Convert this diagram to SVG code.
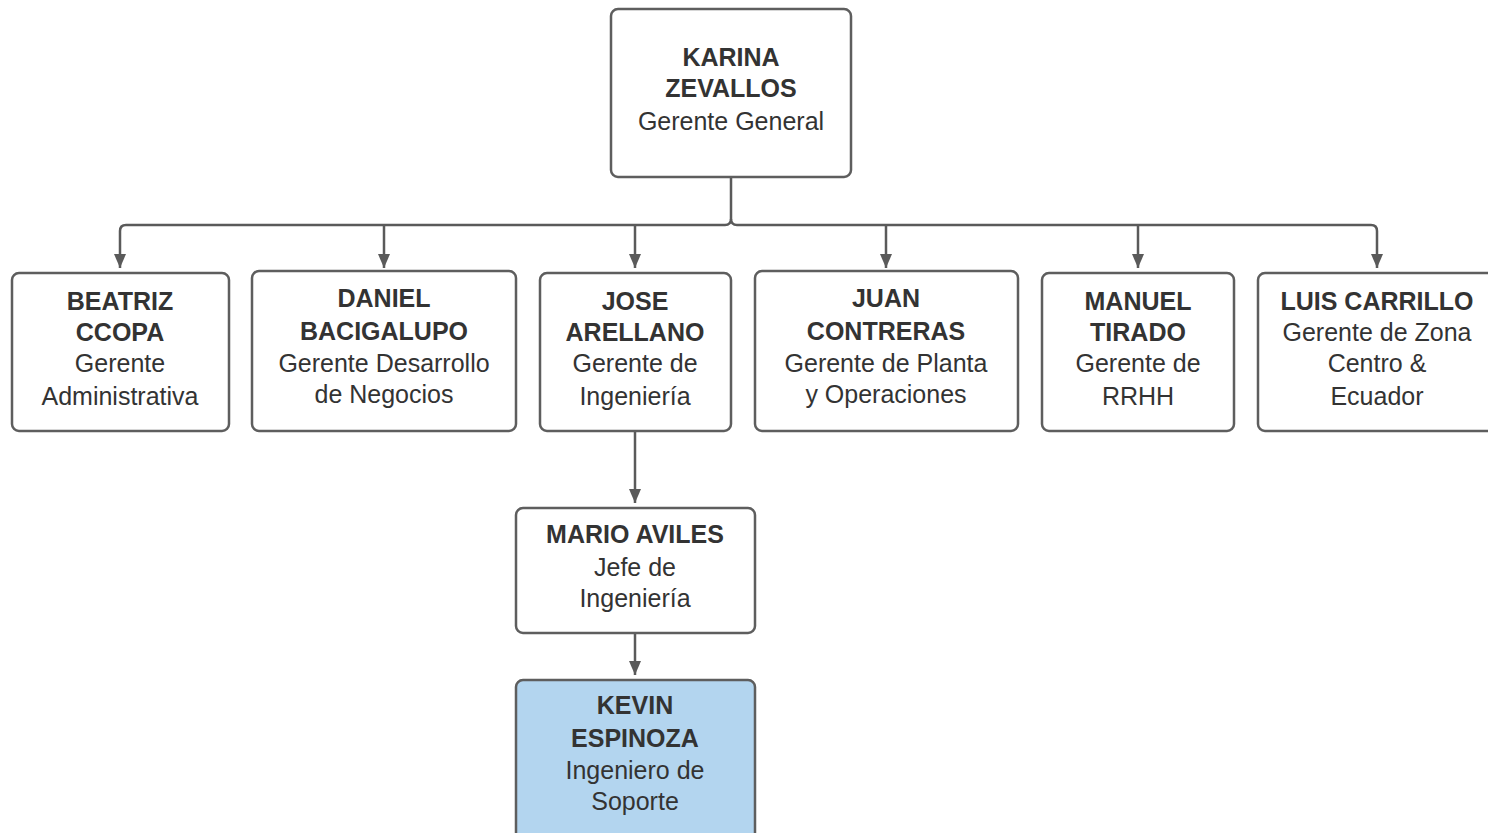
<svg xmlns="http://www.w3.org/2000/svg" width="1488" height="833" viewBox="0 0 1488 833">
<defs>
<marker id="ah" markerWidth="14" markerHeight="12" refX="14" refY="6" orient="auto" markerUnits="userSpaceOnUse" viewBox="0 0 14 12">
<path d="M0,0 L14,6 L0,12 Z" fill="#5a5a5a"/>
</marker>
<style>
.box{fill:#ffffff;stroke:#5e5e5e;stroke-width:2.5}
.hl{fill:#b3d5ef}
.n{font-family:"Liberation Sans",Arial,sans-serif;font-size:25px;font-weight:bold;fill:#333333;text-anchor:middle}
.t{font-family:"Liberation Sans",Arial,sans-serif;font-size:25px;fill:#333333;text-anchor:middle}
.c{fill:none;stroke:#5a5a5a;stroke-width:2.5}
</style>
</defs>
<rect width="1488" height="833" fill="#ffffff"/>
<g id="connectors">
<path class="c" d="M731,177 V219 Q731,225 725,225 H126 Q120,225 120,231 V268" marker-end="url(#ah)"/>
<path class="c" d="M731,219 Q731,225 737,225 H1371 Q1377,225 1377,231 V268" marker-end="url(#ah)"/>
<path class="c" d="M384,225 V268" marker-end="url(#ah)"/>
<path class="c" d="M635,225 V268" marker-end="url(#ah)"/>
<path class="c" d="M886,225 V268" marker-end="url(#ah)"/>
<path class="c" d="M1138,225 V268" marker-end="url(#ah)"/>
<path class="c" d="M635,431 V503" marker-end="url(#ah)"/>
<path class="c" d="M635,633 V675" marker-end="url(#ah)"/>
</g>
<g id="karina">
<rect class="box" x="611" y="9" width="240" height="168" rx="7"/>
<text class="n" x="731" y="66">KARINA</text>
<text class="n" x="731" y="97">ZEVALLOS</text>
<text class="t" x="731" y="130">Gerente General</text>
</g>
<g id="beatriz">
<rect class="box" x="12" y="273" width="217" height="158" rx="7"/>
<text class="n" x="120" y="310">BEATRIZ</text>
<text class="n" x="120" y="341">CCOPA</text>
<text class="t" x="120" y="372">Gerente</text>
<text class="t" x="120" y="405">Administrativa</text>
</g>
<g id="daniel">
<rect class="box" x="252" y="271" width="264" height="160" rx="7"/>
<text class="n" x="384" y="307">DANIEL</text>
<text class="n" x="384" y="340">BACIGALUPO</text>
<text class="t" x="384" y="372">Gerente Desarrollo</text>
<text class="t" x="384" y="403">de Negocios</text>
</g>
<g id="jose">
<rect class="box" x="540" y="273" width="191" height="158" rx="7"/>
<text class="n" x="635" y="310">JOSE</text>
<text class="n" x="635" y="341">ARELLANO</text>
<text class="t" x="635" y="372">Gerente de</text>
<text class="t" x="635" y="405">Ingeniería</text>
</g>
<g id="juan">
<rect class="box" x="755" y="271" width="263" height="160" rx="7"/>
<text class="n" x="886" y="307">JUAN</text>
<text class="n" x="886" y="340">CONTRERAS</text>
<text class="t" x="886" y="372">Gerente de Planta</text>
<text class="t" x="886" y="403">y Operaciones</text>
</g>
<g id="manuel">
<rect class="box" x="1042" y="273" width="192" height="158" rx="7"/>
<text class="n" x="1138" y="310">MANUEL</text>
<text class="n" x="1138" y="341">TIRADO</text>
<text class="t" x="1138" y="372">Gerente de</text>
<text class="t" x="1138" y="405">RRHH</text>
</g>
<g id="luis">
<rect class="box" x="1258" y="273" width="240" height="158" rx="7"/>
<text class="n" x="1377" y="310">LUIS CARRILLO</text>
<text class="t" x="1377" y="341">Gerente de Zona</text>
<text class="t" x="1377" y="372">Centro &amp;</text>
<text class="t" x="1377" y="405">Ecuador</text>
</g>
<g id="mario">
<rect class="box" x="516" y="508" width="239" height="125" rx="7"/>
<text class="n" x="635" y="543">MARIO AVILES</text>
<text class="t" x="635" y="576">Jefe de</text>
<text class="t" x="635" y="607">Ingeniería</text>
</g>
<g id="kevin">
<rect class="box hl" x="516" y="680" width="239" height="170" rx="7"/>
<text class="n" x="635" y="714">KEVIN</text>
<text class="n" x="635" y="747">ESPINOZA</text>
<text class="t" x="635" y="779">Ingeniero de</text>
<text class="t" x="635" y="810">Soporte</text>
</g>
</svg>
